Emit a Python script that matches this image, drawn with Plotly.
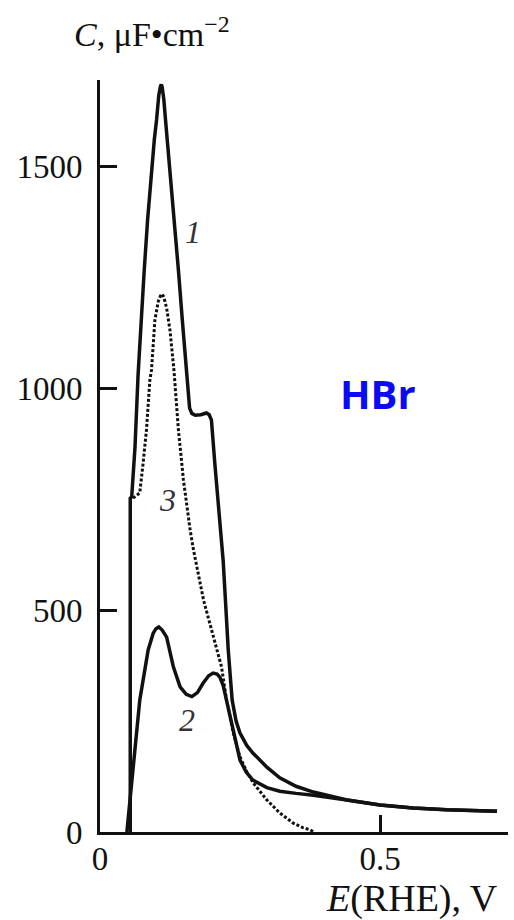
import plotly.graph_objects as go

# Curve 1 (solid): capacitance vs potential
E1 = [0.054, 0.054, 0.0566, 0.0625, 0.068, 0.073, 0.079, 0.085, 0.092, 0.097, 0.101,
      0.105, 0.108, 0.1095, 0.111, 0.114, 0.117, 0.125, 0.133, 0.140, 0.147, 0.153,
      0.157, 0.160, 0.164, 0.170, 0.180, 0.190, 0.195, 0.199, 0.205, 0.214, 0.220,
      0.225, 0.229, 0.236, 0.243, 0.250, 0.262, 0.273, 0.298, 0.321, 0.350, 0.381,
      0.441, 0.500, 0.559, 0.619, 0.709]
C1 = [0, 752, 755, 867, 1030, 1153, 1266, 1379, 1491, 1560, 1604,
      1660, 1680, 1684, 1678, 1650, 1604, 1491, 1379, 1266, 1153, 1050,
      990, 955, 943, 939, 940, 944, 940, 928, 831, 705, 610,
      500, 410, 297, 250, 223, 195, 178, 146, 122, 103, 90,
      72, 61, 54, 50, 47]

# Curve 2 (solid)
E2 = [0.048, 0.060, 0.071, 0.086, 0.095, 0.100, 0.105, 0.111, 0.119, 0.131, 0.143,
      0.154, 0.164, 0.174, 0.184, 0.194, 0.202, 0.209, 0.214, 0.220, 0.226, 0.232,
      0.238, 0.244, 0.250, 0.261, 0.273, 0.298, 0.321, 0.350, 0.381, 0.441, 0.500,
      0.559, 0.619, 0.709]
C2 = [0, 160, 297, 410, 448, 458, 462, 455, 439, 372, 327,
      310, 305, 314, 335, 352, 358, 356, 349, 330, 297, 262,
      223, 190, 162, 135, 117, 100, 92, 87, 83, 72, 61,
      54, 50, 47]

# Curve 3 (dotted)
E3 = [0.059, 0.066, 0.071, 0.077, 0.083, 0.089, 0.092, 0.098, 0.104, 0.108, 0.111,
      0.114, 0.119, 0.125, 0.132, 0.140, 0.149, 0.161, 0.167, 0.185, 0.208, 0.217,
      0.226, 0.238, 0.250, 0.262, 0.274, 0.298, 0.321, 0.345, 0.362, 0.375, 0.382]
C3 = [752, 758, 764, 831, 906, 1018, 1041, 1153, 1195, 1208, 1212,
      1205, 1180, 1130, 1041, 906, 793, 680, 635, 522, 410, 372,
      297, 223, 169, 136, 110, 72, 43, 20, 10, 5, 0]

y_ticks = [0, 500, 1000, 1500]
y_tick_text = ["0", "500", "1000", "1500"]
x_ticks = [0, 0.5]
x_tick_text = ["0", "0.5"]

curve_labels = [("1", 0.166, 1351), ("3", 0.120, 748), ("2", 0.155, 252)]

INK = "#111111"
SERIF = "Liberation Serif, Times New Roman, serif"

W, H = 514, 920
L, R, T, B = 100, 6, 80, 88
PW, PH = W - L - R, H - T - B


def px(x):
    return (x - L) / PW


def py(y):
    return (H - B - y) / PH


fig = go.Figure()
fig.add_trace(go.Scatter(x=E1, y=C1, mode="lines",
                         line=dict(color=INK, width=3.5)))
fig.add_trace(go.Scatter(x=E2, y=C2, mode="lines",
                         line=dict(color=INK, width=3.5)))
fig.add_trace(go.Scatter(x=E3, y=C3, mode="lines",
                         line=dict(color=INK, width=3, dash="3px,2px")))

for txt, xe, yc in curve_labels:
    fig.add_annotation(x=xe, y=yc, xref="x", yref="y", text=f"<i>{txt}</i>",
                       showarrow=False,
                       font=dict(family=SERIF, size=32, color="#333333"))

# axis titles and panel label
fig.add_annotation(x=px(72), y=py(32), xref="paper", yref="paper",
                   xanchor="left", yanchor="middle", showarrow=False,
                   text="<i>C</i>, μF•cm<sup>−2</sup>",
                   font=dict(family=SERIF, size=34, color=INK))
fig.add_annotation(x=px(412), y=py(898), xref="paper", yref="paper",
                   xanchor="center", yanchor="middle", showarrow=False,
                   text="<i>E</i>(RHE), V",
                   font=dict(family=SERIF, size=38, color=INK))
fig.add_annotation(x=px(378), y=py(393), xref="paper", yref="paper",
                   xanchor="center", yanchor="middle", showarrow=False,
                   text="<b>HBr</b>",
                   font=dict(family="Open Sans, sans-serif", size=40, color="#0a0af5"))

fig.update_layout(
    width=W, height=H,
    margin=dict(l=L, r=R, t=T, b=B, pad=0),
    paper_bgcolor="white", plot_bgcolor="white",
    showlegend=False,
    xaxis=dict(range=[0, PW / 560], showgrid=False, zeroline=False,
               showline=True, linewidth=3, linecolor=INK,
               tickmode="array", tickvals=x_ticks, ticktext=x_tick_text,
               ticks="inside", ticklen=17, tickwidth=3, tickcolor=INK,
               ticklabelstandoff=-5,
               tickfont=dict(family=SERIF, size=33, color=INK)),
    yaxis=dict(range=[0, PH / 0.4439], showgrid=False, zeroline=False,
               showline=True, linewidth=3, linecolor=INK,
               tickmode="array", tickvals=y_ticks, ticktext=y_tick_text,
               ticks="inside", ticklen=17, tickwidth=3, tickcolor=INK,
               ticklabelstandoff=8,
               tickfont=dict(family=SERIF, size=33, color=INK)),
)

fig.write_html("out.html")
